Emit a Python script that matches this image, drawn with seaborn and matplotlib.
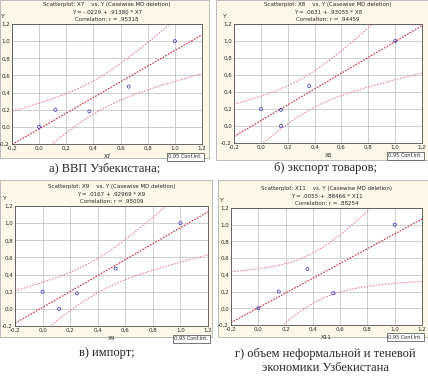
import numpy as np
import pandas as pd
import seaborn as sns
import matplotlib.pyplot as plt
from matplotlib.patches import Rectangle

# data (normalised values)
x7 = [0.0, 0.12, 0.37, 0.66, 1.0]
y7 = [0.0, 0.20, 0.18, 0.47, 1.0]
x8 = [0.0, 0.15, 0.15, 0.36, 1.0]
y8 = [0.20, 0.19, 0.0, 0.47, 1.0]
x9 = [0.0, 0.12, 0.25, 0.53, 1.0]
y9 = [0.20, 0.0, 0.18, 0.47, 1.0]
x11 = [0.0, 0.15, 0.36, 0.55, 1.0]
y11 = [0.0, 0.20, 0.47, 0.18, 1.0]

var_names = ["X7", "X8", "X9", "X11"]
captions = ["а) ВВП Узбекистана;", "б) экспорт товаров;", "в) импорт;",
            "г) объем неформальной и теневой\nэкономики Узбекистана"]
ticks = [-0.2, 0.0, 0.2, 0.4, 0.6, 0.8, 1.0, 1.2]
tick_labels = ["-0,2", "0,0", "0,2", "0,4", "0,6", "0,8", "1,0", "1,2"]
T_975_DF3 = 3.182

sns.set_style("white")
plt.rcParams['font.family'] = ['DejaVu Sans']

W, H = 428, 377
fig = plt.figure(figsize=(W / 100, H / 100), dpi=100)
fig.patch.set_facecolor("white")

# (frame x0, y0, x1, y1), (axes left, top, right, bottom) in pixels
frames = [(0, 0, 209, 158), (216, 0, 428, 160), (0, 180, 212, 337), (218, 180, 428, 337)]
boxes = [(12, 24, 202, 144), (234, 24, 422, 143), (15, 206, 208, 326), (231, 208, 422, 325)]
cap_pos = [(105, 168), (325, 168), (107, 353), (325, 361)]


def px_rect(l, t, r, b):
    return [l / W, 1 - b / H, (r - l) / W, (b - t) / H]


data = [(x7, y7), (x8, y8), (x9, y9), (x11, y11)]

for i, (xs, ys) in enumerate(data):
    fx0, fy0, fx1, fy1 = frames[i]
    fig.patches.append(Rectangle((fx0 / W, 1 - fy1 / H), (fx1 - fx0) / W, (fy1 - fy0) / H,
                                 transform=fig.transFigure, facecolor="#fcf7e6",
                                 edgecolor="#b0b0b0", lw=0.6, zorder=-10))
    ax = fig.add_axes(px_rect(*boxes[i]))
    ax.set_facecolor("white")

    x = np.array(xs)
    y = np.array(ys)
    n = len(x)
    b, a = np.polyfit(x, y, 1)
    r = np.corrcoef(x, y)[0, 1]
    s = np.sqrt(np.sum((y - (a + b * x)) ** 2) / (n - 2))
    sxx = np.sum((x - x.mean()) ** 2)
    grid = np.linspace(-0.2, 1.2, 200)
    fit = a + b * grid
    half = T_975_DF3 * s * np.sqrt(1 / n + (grid - x.mean()) ** 2 / sxx)
    df = pd.DataFrame({"x": grid, "fit": fit, "lo": fit - half, "hi": fit + half})

    sns.lineplot(data=df, x="x", y="fit", ax=ax, color="#c8283c", lw=0.8,
                 linestyle=(0, (1.5, 1.2)))
    sns.lineplot(data=df, x="x", y="hi", ax=ax, color="#e38a98", lw=0.8,
                 linestyle=(0, (1.5, 1.2)))
    sns.lineplot(data=df, x="x", y="lo", ax=ax, color="#e38a98", lw=0.8,
                 linestyle=(0, (1.5, 1.2)))
    sns.scatterplot(x=x, y=y, ax=ax, marker="o", s=5, facecolor="none",
                    edgecolor="#2b2bb8", linewidth=0.5, zorder=5)

    ax.set_xlim(-0.2, 1.2)
    ax.set_ylim(-0.2, 1.2)
    ax.set_xticks(ticks)
    ax.set_yticks(ticks)
    ax.set_xticklabels(tick_labels, fontsize=4)
    ax.set_yticklabels(tick_labels, fontsize=4)
    ax.tick_params(length=0, pad=1.5)
    ax.grid(True, color="#c8c8c8", lw=0.6)
    ax.set_axisbelow(True)
    for sp in ax.spines.values():
        sp.set_linewidth(0.6)
        sp.set_color("#505050")
    ax.set_xlabel(var_names[i], fontsize=4, labelpad=2)
    ax.set_ylabel("")
    ax.text(-0.05, 1.04, "Y", transform=ax.transAxes, fontsize=4.5, ha="center", va="bottom")

    sign = "-" if a < 0 else ""
    title = ("Scatterplot: %s    vs. Y (Casewise MD deletion)\n"
             "Y = %s%s + %s * %s\n"
             "Correlation: r = %s") % (
        var_names[i], sign, ("%.4f" % abs(a))[1:], ("%.5f" % b)[1:], var_names[i],
        ("%.5f" % r)[1:])
    ax.set_title(title, fontsize=4, linespacing=1.6, pad=2)

    ax.text(1.0, -0.085, "0,95 Conf.Int.", transform=ax.transAxes, fontsize=3.6,
            ha="right", va="top",
            bbox=dict(boxstyle="square,pad=0.3", facecolor="white", edgecolor="#404040", lw=0.5))

    cx, cy = cap_pos[i]
    fig.text(cx / W, 1 - cy / H, captions[i], family="Liberation Serif", fontsize=9,
             ha="center", va="center", linespacing=1.25)

fig.savefig("out.png", dpi=100)
